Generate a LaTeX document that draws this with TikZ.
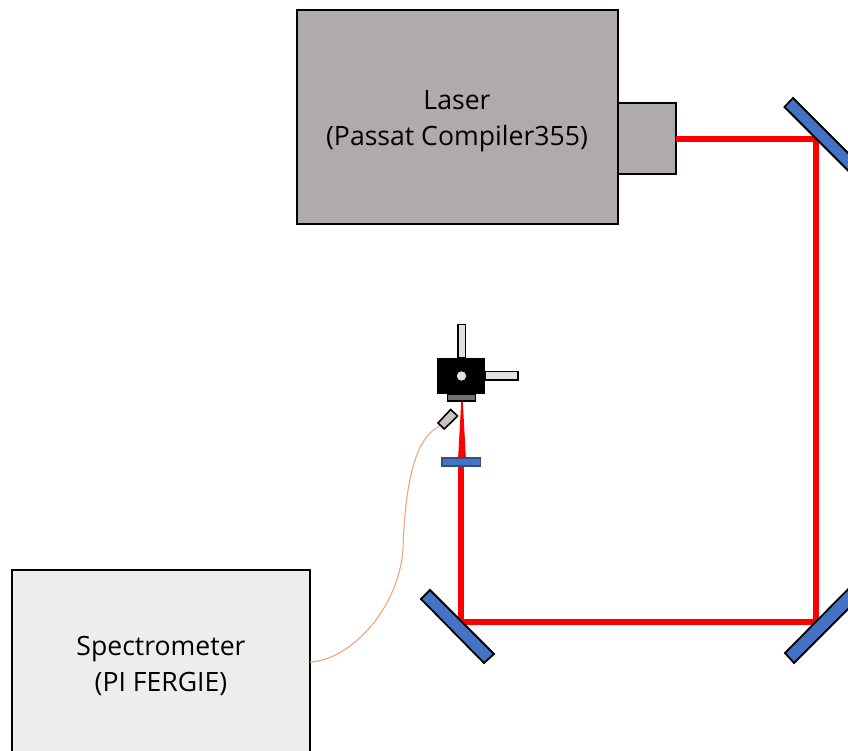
\documentclass[tikz,border=0pt]{standalone}
\usepackage{fontspec}
\setmainfont{Open Sans}
\definecolor{lasergrey}{HTML}{AFABAB}
\definecolor{specgrey}{HTML}{EDEDED}
\definecolor{mirrorblue}{HTML}{4472C4}
\definecolor{beamred}{HTML}{FF0000}
\definecolor{fibre}{HTML}{EDA878}
\definecolor{holder}{HTML}{757070}
\definecolor{armgrey}{HTML}{E0E0E0}
\tikzset{
  unit/.style={draw=black,line width=1.6pt,inner sep=0pt,outer sep=0pt,minimum width=#1},
  lbl/.style={font=\fontsize{26.6}{36}\selectfont,align=center,text=black},
  beam/.style={draw=beamred,line width=6pt,line cap=butt,line join=miter},
  optic/.style={draw=black,line width=1.8pt,fill=mirrorblue,line join=miter},
  thin part/.style={draw=black,line width=1.6pt}
}
\begin{document}
\begin{tikzpicture}[x=1pt,y=-1pt]
\useasboundingbox (0,0) rectangle (848,751);
\clip (0,0) rectangle (848,751);
% coordinates of the beam path
\coordinate (c1) at (816,139);
\coordinate (c2) at (816,622);
\coordinate (c3) at (461,622);
\coordinate (c4) at (461,462);
% boxes
\node[unit=321pt,minimum height=214pt,fill=lasergrey,anchor=north west] (laser) at (297,10) {};
\node[lbl] (lasertext) at (457,121) {Laser\\(Passat Compiler355)};
\node[unit=58pt,minimum height=71pt,fill=lasergrey,anchor=north west] (head) at (618,103) {};
\node[unit=298pt,minimum height=190pt,fill=specgrey,anchor=north west] (spec) at (12,570) {};
\node[lbl] (spectext) at (161,666) {Spectrometer\\(PI FERGIE)};
% beam
\draw[beam] (head.east |- c1) -- (c1) -- (c2) -- (c3) -- (c4);
\fill[beamred] (461.2,402) -- (462.8,402) -- (466,460) -- (458,460) -- cycle;
% mirrors
\draw[optic] (793,98) -- (784.5,107) -- (874,196.5) -- (882.5,187.5) -- cycle;
\draw[optic] (430,590) -- (421,599) -- (484,663) -- (494,654) -- cycle;
\draw[optic] (785,653) -- (794,663) -- (880,577) -- (870,567) -- cycle;
% lens
\draw[draw=mirrorblue!70!black,line width=1.4pt,fill=mirrorblue] (442,458) rectangle (480.5,466);
% sample stage
\draw[thin part,fill=armgrey] (458,324.5) rectangle (465.5,358);
\draw[thin part,fill=armgrey] (485,371.5) rectangle (518,380);
\fill[black] (437,358) rectangle (485,394);
\fill[armgrey] (461.5,376) circle (4.7);
\draw[thin part,fill=holder] (447.5,394) rectangle (475.5,401);
% probe
\draw[thin part,fill=lasergrey!70!white] (450.7,409.5) -- (457.5,416) -- (444.3,429) -- (438,423) -- cycle;
\coordinate (probeend) at (439.5,426.5);
% fibre
\draw[fibre,line width=1.1pt] (spec.east |- 0,662) .. controls (350,660) and (398,610) .. (403,550) .. controls (404,520) and (407,440) .. (probeend);
\end{tikzpicture}
\end{document}
